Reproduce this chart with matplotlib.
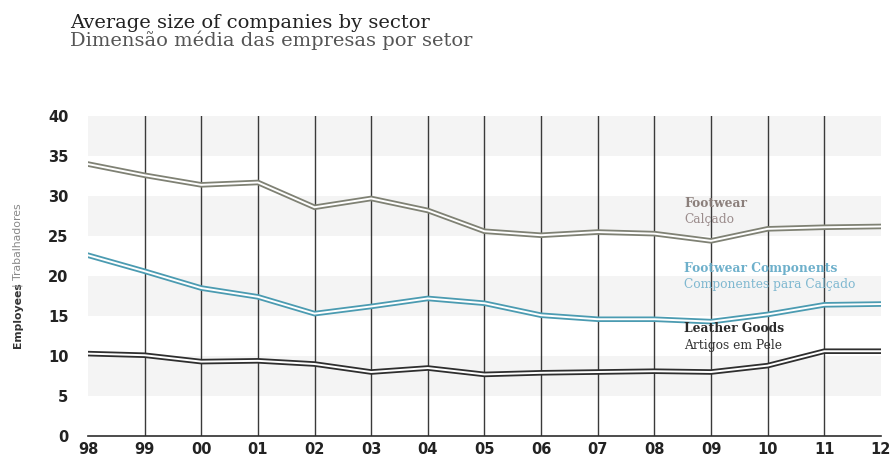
import numpy as np
import matplotlib.pyplot as plt

years = ["98", "99", "00", "01", "02", "03", "04", "05", "06", "07", "08", "09", "10", "11", "12"]
footwear = [34.0, 32.6, 31.4, 31.7, 28.6, 29.7, 28.2, 25.6, 25.1, 25.5, 25.3, 24.4, 25.9, 26.1, 26.2]
components = [22.6, 20.6, 18.5, 17.4, 15.3, 16.2, 17.2, 16.6, 15.1, 14.6, 14.6, 14.3, 15.2, 16.4, 16.5]
leather = [10.3, 10.1, 9.3, 9.4, 9.0, 8.0, 8.5, 7.7, 7.9, 8.0, 8.1, 8.0, 8.8, 10.6, 10.6]

x = np.arange(len(years))

fig = plt.figure(figsize=(8.93, 4.59), dpi=100)
ax = fig.add_axes([0.0985, 0.0501, 0.888, 0.697])

# alternating grey bands
for lo in (5, 15, 25, 35):
    ax.axhspan(lo, lo + 5, color="#f4f4f4", zorder=0, lw=0)

# vertical year lines
for xi in x[1:-1]:
    ax.plot([xi, xi], [0, 40], color="#3a3a3a", lw=1.0, zorder=1)


def double_line(vals, color):
    ax.plot(x, vals, color=color, lw=4.0, zorder=3, solid_joinstyle="miter")
    ax.plot(x, vals, color="white", lw=1.4, zorder=4, solid_joinstyle="miter")


double_line(footwear, "#7f8174")
double_line(components, "#4b9bb1")
double_line(leather, "#2e2e2e")

ax.set_xlim(0, len(years) - 1)
ax.set_ylim(0, 40)
ax.set_xticks(x)
ax.set_xticklabels(years)
ax.set_yticks(range(0, 41, 5))
for s in ("top", "right", "left"):
    ax.spines[s].set_visible(False)
ax.spines["bottom"].set_color("#2e2e2e")
ax.spines["bottom"].set_linewidth(1.2)
ax.tick_params(length=0, labelsize=10.5, colors="#222222")
ax.tick_params(axis="y", pad=14)
ax.tick_params(axis="x", pad=4)
for lab in ax.get_xticklabels() + ax.get_yticklabels():
    lab.set_fontweight("bold")

# series labels
lx = 10.53
fs = 8.8
ax.text(lx, 28.6, "Footwear", fontsize=fs, fontweight="bold", color="#8b7f7b", family="DejaVu Serif")
ax.text(lx, 26.6, "Calçado", fontsize=fs, color="#9b8c8c", family="DejaVu Serif")
ax.text(lx, 20.5, "Footwear Components", fontsize=fs, fontweight="bold", color="#6eb0cb", family="DejaVu Serif")
ax.text(lx, 18.5, "Componentes para Calçado", fontsize=fs, color="#7fb8d0", family="DejaVu Serif")
ax.text(lx, 13.0, "Leather Goods", fontsize=fs, fontweight="bold", color="#2a2a2a", family="DejaVu Serif")
ax.text(lx, 10.9, "Artigos em Pele", fontsize=fs, color="#333333", family="DejaVu Serif")

# y label
fig.text(0.020, 0.241, "Employees", rotation=90, fontsize=7.8, fontweight="bold",
         color="#333333", ha="center", va="bottom")
fig.text(0.020, 0.375, "| Trabalhadores", rotation=90, fontsize=7.8,
         color="#888888", ha="center", va="bottom")

# titles
fig.text(0.078, 0.94, "Average size of companies by sector", fontsize=14,
         color="#222222", family="DejaVu Serif", va="baseline")
fig.text(0.078, 0.90, "Dimensão média das empresas por setor", fontsize=14,
         color="#555555", family="DejaVu Serif", va="baseline")

fig.savefig("out.png", dpi=100)
